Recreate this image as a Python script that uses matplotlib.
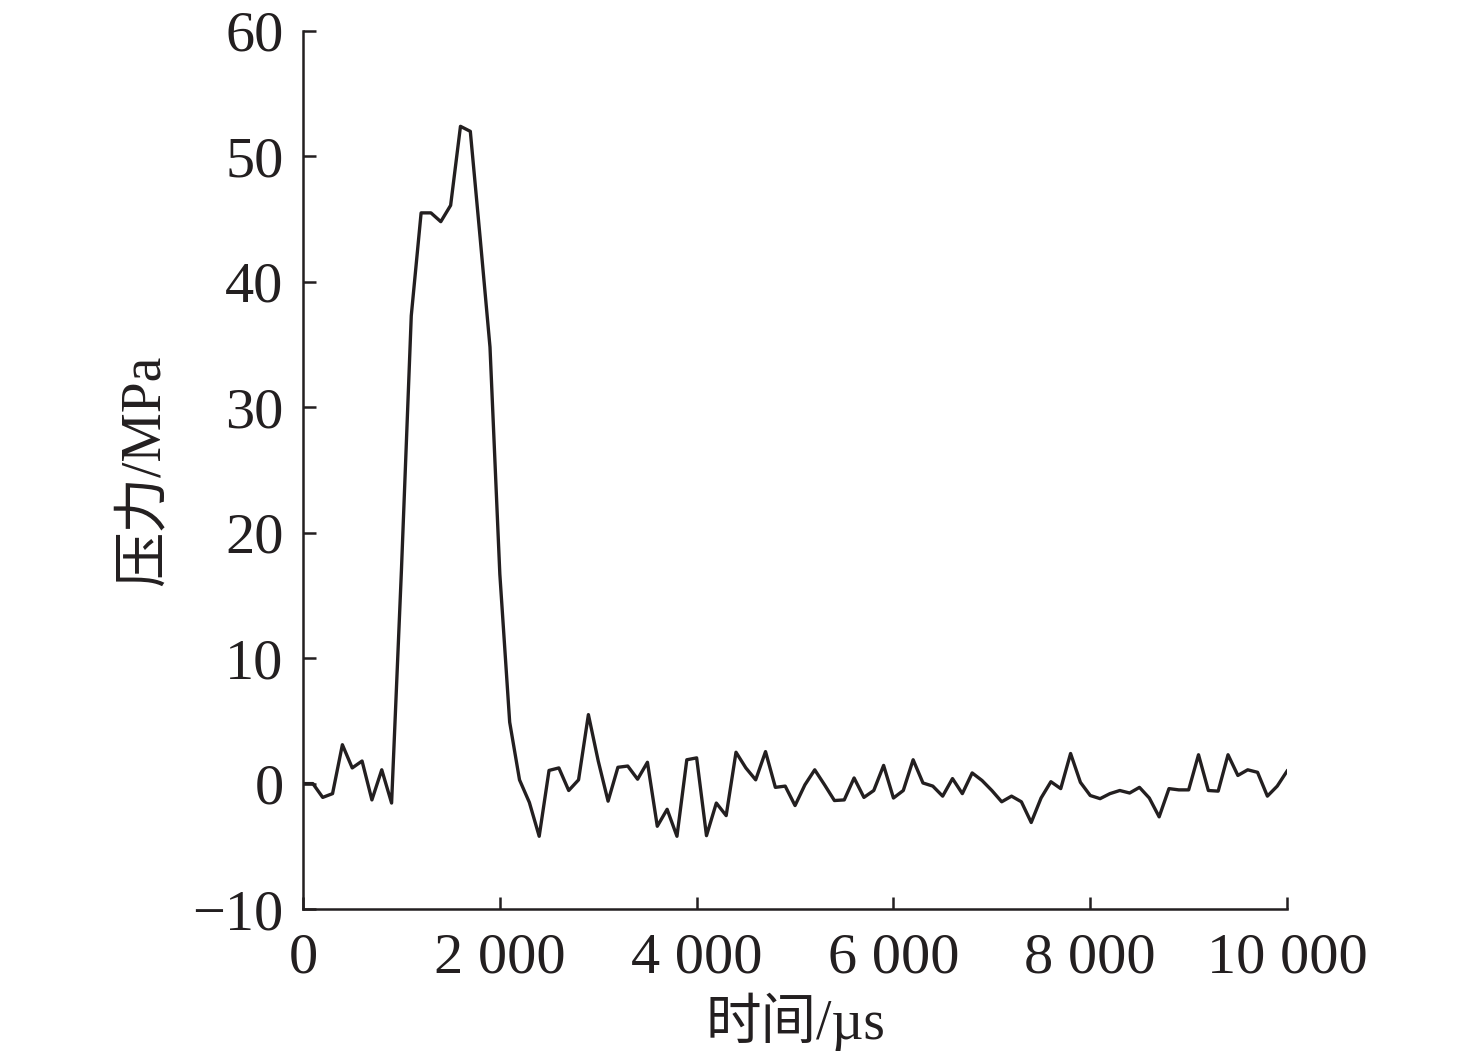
import matplotlib
matplotlib.use("Agg")
import matplotlib.pyplot as plt
import numpy as np

plt.rcParams['font.family'] = ['Liberation Serif', 'Noto Sans CJK SC']
plt.rcParams['axes.unicode_minus'] = True

# time in microseconds, one sample every 100 us
t = np.arange(0, 10001, 100)
pressure = [
    0.0, 0.0, -1.1, -0.8, 3.1, 1.25, 1.8, -1.3, 1.1, -1.55,
    17.0, 37.3, 45.5, 45.5, 44.8, 46.1, 52.4, 52.0, 43.5, 34.8,
    16.7, 4.9, 0.3, -1.5, -4.2, 1.05, 1.25, -0.55, 0.3, 5.5,
    1.8, -1.4, 1.3, 1.4, 0.35, 1.7, -3.4, -2.05, -4.2, 1.9,
    2.05, -4.15, -1.55, -2.55, 2.5, 1.25, 0.3, 2.55, -0.3, -0.2,
    -1.75, -0.1, 1.1, -0.1, -1.35, -1.3, 0.45, -1.1, -0.55, 1.45,
    -1.15, -0.55, 1.9, 0.05, -0.2, -1.0, 0.4, -0.8, 0.85, 0.25,
    -0.55, -1.45, -1.0, -1.45, -3.1, -1.15, 0.15, -0.4, 2.4, 0.1,
    -0.95, -1.2, -0.8, -0.55, -0.75, -0.3, -1.15, -2.65, -0.4, -0.5,
    -0.5, 2.3, -0.55, -0.6, 2.3, 0.65, 1.1, 0.9, -1.0, -0.2,
    1.0,
]

xticks = [0, 2000, 4000, 6000, 8000, 10000]
xtick_labels = ["0", "2 000", "4 000", "6 000", "8 000", "10 000"]
yticks = [-10, 0, 10, 20, 30, 40, 50, 60]

fig = plt.figure(figsize=(14.76, 10.58), dpi=100)
ax = fig.add_axes([0.2053, 0.1408, 0.6667, 0.8299])

ax.plot(t, pressure, color="#231f20", linewidth=2.4)

ax.set_xlim(0, 10000)
ax.set_ylim(-10, 60)
ax.set_xticks(xticks)
ax.set_xticklabels(xtick_labels)
ax.set_yticks(yticks)
ax.set_yticklabels(["\u221210" if v < 0 else str(v) for v in yticks])

for s in ["top", "right"]:
    ax.spines[s].set_visible(False)
for s in ["left", "bottom"]:
    ax.spines[s].set_linewidth(1.8)
    ax.spines[s].set_color("#231f20")

ax.tick_params(direction="in", length=9, width=1.8, colors="#231f20",
               labelsize=42)
ax.tick_params(axis="x", pad=17)
ax.tick_params(axis="y", pad=14)

ax.set_xlabel("时间/µs", fontsize=40, color="#231f20", labelpad=6)
ax.set_ylabel("压力/MPa", fontsize=40, color="#231f20", labelpad=16)

fig.savefig("out.png", dpi=100)
